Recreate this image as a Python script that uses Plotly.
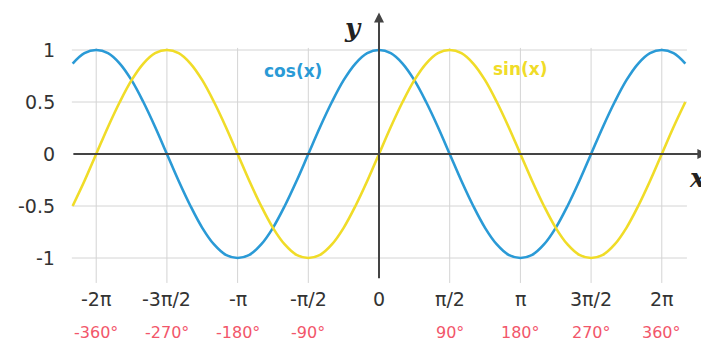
import plotly.graph_objects as go

# angle samples in degrees
x_deg = [-390, -375, -360, -345, -330, -315, -300, -285, -270, -255, -240, -225, -210,
         -195, -180, -165, -150, -135, -120, -105, -90, -75, -60, -45, -30, -15, 0,
         15, 30, 45, 60, 75, 90, 105, 120, 135, 150, 165, 180, 195, 210, 225, 240,
         255, 270, 285, 300, 315, 330, 345, 360, 375, 390]
sin_vals = [-0.5, -0.26, 0, 0.26, 0.5, 0.71, 0.87, 0.97, 1, 0.97, 0.87, 0.71, 0.5,
            0.26, 0, -0.26, -0.5, -0.71, -0.87, -0.97, -1, -0.97, -0.87, -0.71, -0.5, -0.26, 0,
            0.26, 0.5, 0.71, 0.87, 0.97, 1, 0.97, 0.87, 0.71, 0.5, 0.26, 0, -0.26, -0.5, -0.71, -0.87,
            -0.97, -1, -0.97, -0.87, -0.71, -0.5, -0.26, 0, 0.26, 0.5]
cos_vals = [0.87, 0.97, 1, 0.97, 0.87, 0.71, 0.5, 0.26, 0, -0.26, -0.5, -0.71, -0.87,
            -0.97, -1, -0.97, -0.87, -0.71, -0.5, -0.26, 0, 0.26, 0.5, 0.71, 0.87, 0.97, 1,
            0.97, 0.87, 0.71, 0.5, 0.26, 0, -0.26, -0.5, -0.71, -0.87, -0.97, -1, -0.97, -0.87, -0.71, -0.5,
            -0.26, 0, 0.26, 0.5, 0.71, 0.87, 0.97, 1, 0.97, 0.87]

x_ticks = [-360, -270, -180, -90, 0, 90, 180, 270, 360]
x_tick_text = ["-2π", "-3π/2", "-π", "-π/2", "0", "π/2", "π", "3π/2", "2π"]
deg_text = ["-360°", "-270°", "-180°", "-90°", "", "90°", "180°", "270°", "360°"]
y_ticks = [1, 0.5, 0, -0.5, -1]
y_tick_text = ["1", "0.5", "0", "-0.5", "-1"]

BLUE = "#2a9ad6"
YELLOW = "#f0dc28"
GRID = "#d4d4d4"
AXIS = "#444444"

fig = go.Figure()

# grid lines
for t in x_ticks:
    if t != 0:
        fig.add_shape(type="line", x0=t, x1=t, y0=1.02, y1=-1.24,
                      line=dict(color=GRID, width=1), layer="below")
for t in y_ticks:
    if t != 0:
        fig.add_shape(type="line", x0=-391, x1=392, y0=t, y1=t,
                      line=dict(color=GRID, width=1), layer="below")

fig.add_trace(go.Scatter(x=x_deg, y=cos_vals, mode="lines", line_shape="spline",
                         line=dict(color=BLUE, width=2.6), hoverinfo="skip"))
fig.add_trace(go.Scatter(x=x_deg, y=sin_vals, mode="lines", line_shape="spline",
                         line=dict(color=YELLOW, width=2.6), hoverinfo="skip"))

# axes with arrows
fig.add_annotation(x=418, y=0, ax=-391, ay=0, xref="x", yref="y", axref="x", ayref="y",
                   showarrow=True, arrowhead=2, arrowsize=1, arrowwidth=2, arrowcolor=AXIS, text="")
fig.add_annotation(x=0, y=1.36, ax=0, ay=-1.21, xref="x", yref="y", axref="x", ayref="y",
                   showarrow=True, arrowhead=2, arrowsize=1, arrowwidth=2, arrowcolor=AXIS, text="")

fig.add_annotation(x=-33, y=1.21, text="<b><i>y</i></b>", showarrow=False,
                   font=dict(family="DejaVu Serif", size=26, color="#222"))
fig.add_annotation(x=406, y=-0.23, text="<b><i>x</i></b>", showarrow=False,
                   font=dict(family="DejaVu Serif", size=26, color="#222"))

# tick labels
for t, lab, dl in zip(x_ticks, x_tick_text, deg_text):
    fig.add_annotation(x=t, y=-1.39, text=lab, showarrow=False,
                       font=dict(family="DejaVu Sans", size=19, color="#333"))
    if dl:
        fig.add_annotation(x=t, y=-1.72, text=dl, showarrow=False,
                           font=dict(family="DejaVu Sans", size=16, color="#f2566a"))
for t, lab in zip(y_ticks, y_tick_text):
    fig.add_annotation(x=-410, y=t, text=lab, showarrow=False, xanchor="right",
                       font=dict(family="DejaVu Sans", size=19, color="#333"))

fig.add_annotation(x=-110, y=0.8, text="<b>cos(x)</b>", showarrow=False,
                   font=dict(family="DejaVu Sans", size=17, color=BLUE))
fig.add_annotation(x=180, y=0.82, text="<b>sin(x)</b>", showarrow=False,
                   font=dict(family="DejaVu Sans", size=17, color=YELLOW))

# page body has an 8px margin, so the figure is sized and mapped to fit the window
fig.update_layout(
    width=701, height=337,
    margin=dict(l=0, r=0, t=0, b=0),
    plot_bgcolor="white", paper_bgcolor="white",
    showlegend=False,
    xaxis=dict(range=[-472.3, 420.1], visible=False, fixedrange=True),
    yaxis=dict(range=[-1.8365, 1.4038], visible=False, fixedrange=True),
)

fig.write_html("out.html")
